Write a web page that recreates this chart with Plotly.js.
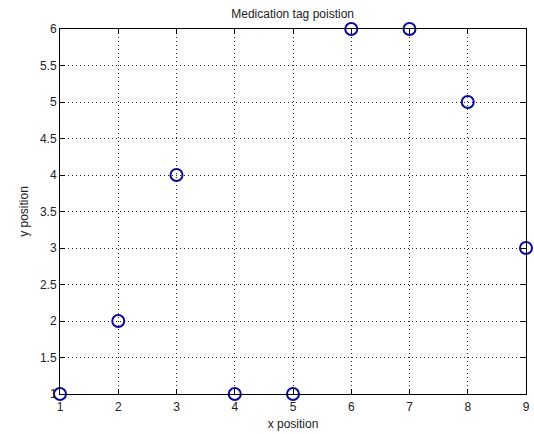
<!DOCTYPE html>
<html>
<head>
<meta charset="utf-8">
<script src="https://cdn.plot.ly/plotly-3.0.1.min.js"></script>
<style>
  html, body { margin: 0; padding: 0; background: #fff; }
  #chart { width: 534px; height: 434px; }
</style>
</head>
<body>
<div id="chart"></div>
<script>
// Tag positions (x, y)
const xPos = [1, 2, 3, 4, 5, 6, 7, 8, 9];
const yPos = [1, 2, 4, 1, 1, 6, 6, 5, 3];

const xTicks = [1, 2, 3, 4, 5, 6, 7, 8, 9];
const yTicks = [1, 1.5, 2, 2.5, 3, 3.5, 4, 4.5, 5, 5.5, 6];

const font = { family: 'Liberation Sans, Arial, sans-serif', size: 12, color: '#222' };

const axisCommon = {
  showline: true,
  linecolor: '#000',
  linewidth: 1,
  mirror: 'ticks',
  ticks: 'inside',
  ticklen: 5,
  tickcolor: '#000',
  showgrid: true,
  gridcolor: '#222',
  gridwidth: 1,
  griddash: '1px,3px',
  zeroline: false,
  tickfont: font
};

const trace = {
  x: xPos,
  y: yPos,
  type: 'scatter',
  mode: 'markers',
  cliponaxis: false,
  marker: {
    symbol: 'circle-open',
    size: 12,
    color: '#0a0a9a',
    line: { width: 2, color: '#0a0a9a' }
  },
  hoverinfo: 'skip'
};

const layout = {
  width: 534,
  height: 434,
  margin: { l: 60, r: 8, t: 29, b: 40 },
  paper_bgcolor: '#fff',
  plot_bgcolor: '#fff',
  showlegend: false,
  font: font,
  title: {
    text: 'Medication tag poistion',
    font: { family: font.family, size: 12, color: '#222' },
    x: 0.548, xanchor: 'center',
    y: 0.968, yanchor: 'middle'
  },
  xaxis: Object.assign({}, axisCommon, {
    range: [1, 9],
    tickvals: xTicks,
    ticktext: xTicks.map(String),
    ticklabelstandoff: 2,
    title: { text: 'x position', font: font, standoff: 6 }
  }),
  yaxis: Object.assign({}, axisCommon, {
    range: [1, 6],
    tickvals: yTicks,
    ticktext: yTicks.map(String),
    title: { text: 'y position', font: font, standoff: 8 }
  })
};

Plotly.newPlot('chart', [trace], layout, { displayModeBar: false, staticPlot: true });
</script>
</body>
</html>
